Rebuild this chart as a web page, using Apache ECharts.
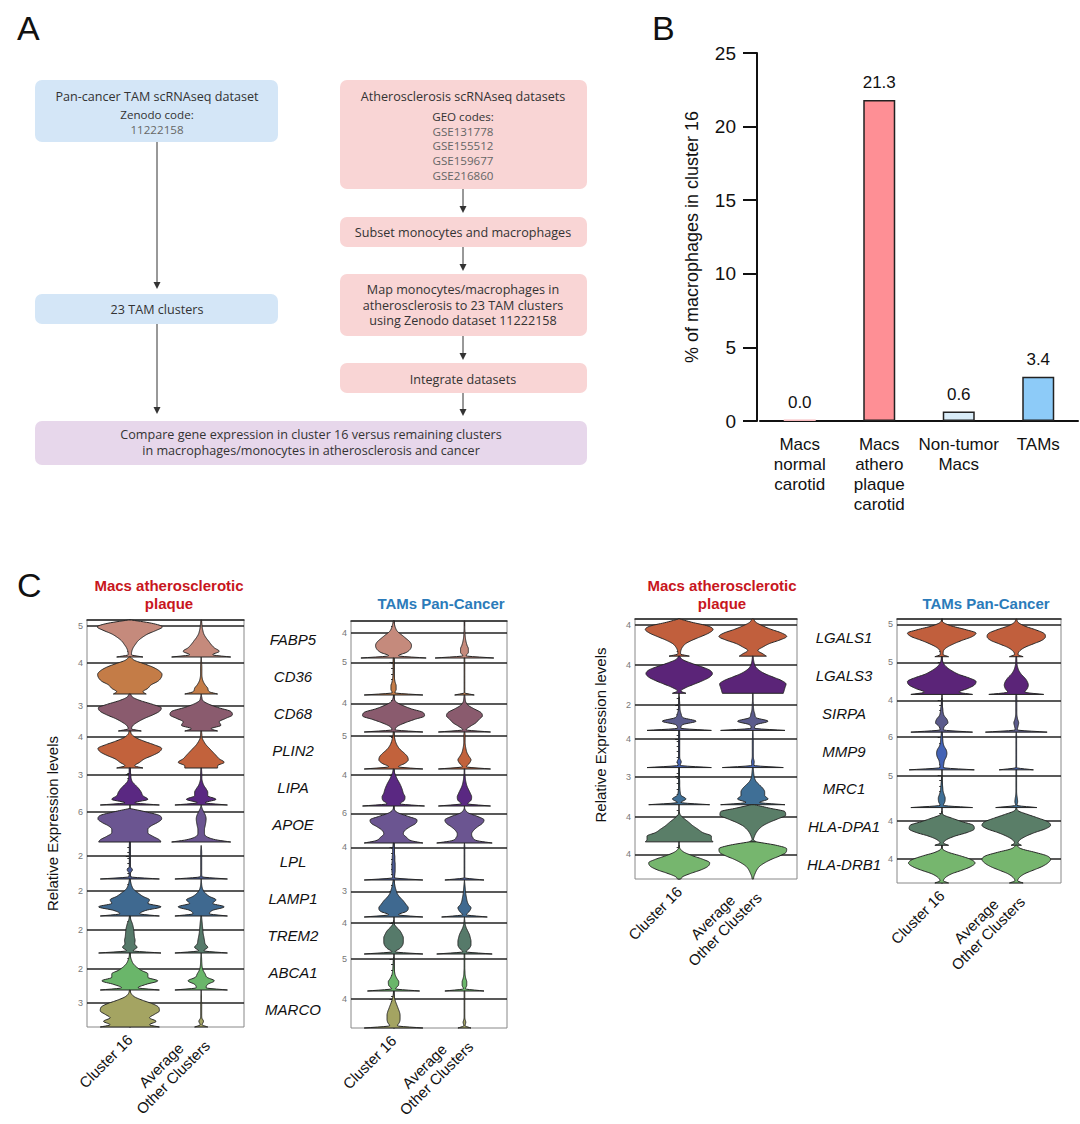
<!DOCTYPE html>
<html><head><meta charset="utf-8">
<script src="https://cdn.jsdelivr.net/npm/echarts@6/dist/echarts.min.js"></script>
<style>html,body{margin:0;padding:0;background:#fff}#c{width:1080px;height:1124px}</style>
</head><body><div id="c"></div>
<script>
// ---------------- Panel A (flow chart text) ----------------
const flowPanCancer = ['Pan-cancer TAM scRNAseq dataset', 'Zenodo code:', '11222158'];
const flowAthero = ['Atherosclerosis scRNAseq datasets', 'GEO codes:', 'GSE131778', 'GSE155512', 'GSE159677', 'GSE216860'];
const flowSubset = ['Subset monocytes and macrophages'];
const flowMap = ['Map monocytes/macrophages in', 'atherosclerosis to 23 TAM clusters', 'using Zenodo dataset 11222158'];
const flowIntegrate = ['Integrate datasets'];
const flowClusters = ['23 TAM clusters'];
const flowCompare = ['Compare gene expression in cluster 16 versus remaining clusters', 'in macrophages/monocytes in atherosclerosis and cancer'];

// ---------------- Panel B data ----------------
const bCategories = ['Macs\nnormal\ncarotid', 'Macs\nathero\nplaque\ncarotid', 'Non-tumor\nMacs', 'TAMs'];
const bValues = [0.1, 21.8, 0.64, 3.0];
const bLabels = ['0.0', '21.3', '0.6', '3.4'];
const bAxisName = '% of macrophages in cluster 16';

// ---------------- Panel C data ----------------
const clusterLabels = ['Cluster 16', 'Average\nOther Clusters'];
const genesLeft = ['FABP5','CD36','CD68','PLIN2','LIPA','APOE','LPL','LAMP1','TREM2','ABCA1','MARCO'];
const genesRight = ['LGALS1','LGALS3','SIRPA','MMP9','MRC1','HLA-DPA1','HLA-DRB1'];
// relative density levels (fraction of each row height, bottom -> top)
const levels = [0, 0.06, 0.154, 0.248, 0.342, 0.436, 0.53, 0.624, 0.718, 0.812, 0.906, 1.0];

const athLeftC16 = [
 [0.4,0.05,0.06,0.1,0.17,0.25,0.38,0.55,0.8,0.99,0.7,0.05],
 [0.5,0.4,0.55,0.65,0.85,0.95,0.98,0.9,0.72,0.45,0.15,0.02],
 [0.35,0.05,0.1,0.25,0.45,0.7,0.9,0.96,0.7,0.35,0.1,0.02],
 [0.4,0.15,0.3,0.45,0.7,0.9,0.97,0.75,0.45,0.2,0.06,0.02],
 [0.9,0.15,0.55,0.4,0.35,0.28,0.18,0.08,0.04,0.03,0.02,0.02],
 [0.95,0.9,0.7,0.55,0.55,0.65,0.85,0.97,0.9,0.5,0,0],
 [0.9,0.03,0.02,0.08,0.015,0.015,0.015,0.015,0.015,0.015,0.015,0.01],
 [0.9,0.3,0.5,0.95,0.55,0.6,0.4,0.25,0.12,0.06,0.03,0.01],
 [0.95,0.1,0.22,0.15,0.16,0.14,0.13,0.12,0.1,0.07,0.03,0.01],
 [0.9,0.25,0.5,0.85,0.55,0.55,0.35,0.2,0.1,0.05,0.02,0.01],
 [0.9,0.6,0.8,0.6,0.75,0.9,0.88,0.7,0.4,0.15,0.04,0.01]
];
const athLeftOther = [
 [0.9,0.35,0.55,0.4,0.3,0.22,0.14,0.08,0.05,0.03,0.02,0.01],
 [0.5,0.25,0.2,0.12,0.06,0.03,0.02,0.02,0.02,0.015,0.01,0],
 [0.5,0.3,0.6,0.55,0.75,0.95,0.9,0.55,0.25,0.06,0.02,0],
 [0.5,0.5,0.7,0.55,0.45,0.35,0.25,0.15,0.08,0.03,0.02,0.01],
 [0.8,0.12,0.45,0.2,0.2,0.15,0.08,0.04,0.02,0.02,0.015,0.01],
 [0.9,0.45,0.15,0.1,0.1,0.12,0.14,0.15,0.13,0.08,0.03,0],
 [0.8,0.03,0.015,0.015,0.015,0.015,0.015,0.015,0.015,0.01,0,0],
 [0.8,0.25,0.35,0.7,0.35,0.45,0.25,0.12,0.05,0.02,0.01,0],
 [0.8,0.08,0.2,0.12,0.1,0.08,0.06,0.05,0.04,0.03,0.02,0.01],
 [0.8,0.15,0.2,0.4,0.18,0.12,0.06,0.03,0.02,0.015,0.01,0],
 [0.2,0.03,0.07,0.02,0.015,0.015,0.015,0.015,0.01,0.01,0.005,0]
];
const tamLeftC16 = [
 [1.0,0.15,0.4,0.52,0.55,0.5,0.38,0.25,0.12,0.06,0.03,0.01],
 [0.9,0.04,0.08,0.08,0.05,0.03,0.02,0.015,0.015,0.015,0.015,0.01],
 [0.9,0.05,0.12,0.35,0.65,0.95,0.9,0.55,0.28,0.08,0.02,0],
 [0.9,0.15,0.35,0.45,0.42,0.32,0.2,0.12,0.07,0.04,0.02,0.01],
 [0.95,0.2,0.33,0.35,0.3,0.27,0.23,0.18,0.12,0.07,0.03,0.01],
 [0.9,0.55,0.4,0.3,0.35,0.5,0.68,0.72,0.45,0.15,0.02,0],
 [0.9,0.03,0.04,0.05,0.05,0.05,0.04,0.04,0.03,0.03,0.02,0.01],
 [0.9,0.15,0.4,0.45,0.38,0.3,0.2,0.12,0.08,0.05,0.03,0.01],
 [0.9,0.05,0.2,0.28,0.3,0.3,0.26,0.2,0.1,0.02,0,0],
 [0.8,0.06,0.15,0.16,0.1,0.05,0.03,0.02,0.015,0.01,0,0],
 [0.9,0.12,0.18,0.2,0.2,0.18,0.14,0.1,0.06,0.03,0.01,0]
];
const tamLeftOther = [
 [0.9,0.05,0.12,0.12,0.08,0.05,0.03,0.02,0.015,0.01,0.01,0.01],
 [0.3,0.01,0.01,0.01,0.01,0.01,0.01,0.01,0.01,0.01,0.01,0.01],
 [0.8,0.05,0.18,0.35,0.45,0.55,0.5,0.3,0.12,0.04,0.02,0.01],
 [0.8,0.06,0.15,0.2,0.14,0.08,0.05,0.03,0.02,0.02,0.02,0.01],
 [0.8,0.1,0.2,0.22,0.18,0.13,0.08,0.05,0.03,0.02,0.01,0.01],
 [0.85,0.4,0.25,0.22,0.28,0.4,0.55,0.6,0.4,0.12,0.02,0],
 [0.6,0.01,0.01,0.01,0.01,0.01,0.01,0.01,0.01,0.01,0.01,0],
 [0.7,0.06,0.15,0.2,0.12,0.08,0.06,0.04,0.03,0.02,0.01,0],
 [0.85,0.05,0.15,0.2,0.2,0.18,0.15,0.1,0.05,0.02,0.01,0],
 [0.6,0.03,0.07,0.07,0.04,0.02,0.015,0.01,0.01,0.01,0.01,0.01],
 [0.2,0.02,0.04,0.015,0.01,0.01,0.01,0.01,0.01,0.01,0.01,0.01]
];
const athRightC16 = [
 [0.3,0.04,0.05,0.1,0.2,0.4,0.65,0.88,1.0,0.85,0.4,0.02],
 [0.2,0.05,0.2,0.45,0.7,0.9,0.98,0.9,0.65,0.35,0.1,0.01],
 [0.95,0.05,0.1,0.5,0.12,0.06,0.03,0.02,0.015,0.01,0,0],
 [0.95,0.03,0.06,0.02,0.015,0.015,0.015,0.015,0.015,0.015,0.015,0.01],
 [0.9,0.05,0.2,0.06,0.03,0.02,0.015,0.015,0.01,0.01,0.01,0],
 [1.0,0.95,0.95,0.7,0.55,0.4,0.28,0.15,0.04,0,0,0],
 [0.05,0.1,0.35,0.65,0.85,0.9,0.7,0.4,0.15,0.03,0,0]
];
const athRightOther = [
 [0.4,0.3,0.15,0.3,0.5,0.8,1.0,0.85,0.55,0.3,0.1,0.02],
 [0.9,0.92,0.95,0.98,0.85,0.6,0.35,0.18,0.08,0.04,0.02,0.01],
 [0.95,0.05,0.1,0.45,0.1,0.06,0.03,0.02,0.015,0.01,0.01,0.01],
 [0.9,0.03,0.04,0.02,0.015,0.015,0.015,0.015,0.015,0.01,0.01,0],
 [0.95,0.2,0.45,0.35,0.35,0.3,0.2,0.1,0.05,0.03,0.02,0.01],
 [0.1,0.02,0.05,0.1,0.18,0.3,0.5,0.75,0.97,0.95,0.5,0.05],
 [0.02,0.03,0.07,0.12,0.2,0.35,0.55,0.8,0.98,1.0,0.7,0.1]
];
const tamRightC16 = [
 [0.2,0.04,0.05,0.15,0.35,0.6,0.88,1.0,0.7,0.3,0.05,0],
 [0.9,0.5,0.75,0.95,1.0,0.8,0.5,0.3,0.15,0.06,0.02,0.01],
 [0.9,0.05,0.08,0.18,0.15,0.07,0.04,0.03,0.015,0.01,0,0],
 [0.95,0.05,0.06,0.08,0.13,0.15,0.13,0.07,0.04,0.03,0.02,0.01],
 [0.9,0.05,0.09,0.1,0.07,0.04,0.03,0.02,0.01,0,0,0],
 [0.2,0.05,0.15,0.4,0.75,0.95,0.92,0.6,0.3,0.04,0,0],
 [0.2,0.05,0.12,0.3,0.6,0.85,0.97,0.85,0.55,0.2,0.02,0]
];
const tamRightOther = [
 [0.2,0.05,0.1,0.25,0.5,0.75,0.85,0.8,0.55,0.25,0.06,0.01],
 [0.8,0.25,0.32,0.35,0.32,0.25,0.15,0.08,0.04,0.02,0.015,0.01],
 [0.9,0.03,0.05,0.07,0.04,0.02,0.015,0.015,0.015,0.015,0.015,0.01],
 [0.5,0.01,0.01,0.01,0.01,0.01,0.01,0.01,0.01,0.01,0.01,0],
 [0.6,0.02,0.04,0.03,0.015,0.01,0.01,0.01,0.01,0.01,0.01,0.01],
 [0.15,0.05,0.12,0.3,0.55,0.85,1.0,0.92,0.65,0.35,0.07,0],
 [0.2,0.04,0.1,0.25,0.5,0.75,0.92,1.0,0.9,0.55,0.15,0.01]
];
// per-row axis tick label and per-row axis maximum (expression units)
const athLeftTicks = [5,4,3,4,3,6,2,2,2,2,3];
const athLeftMax = [5.95,4.76,4.41,4.76,3.66,7.4,3.23,2.94,3.17,3.45,4.55];
const tamLeftTicks = [4,5,4,5,4,6,4,3,4,5,4];
const tamLeftMax = [5.88,5.68,5.19,5.62,4.76,7.5,4.55,4.35,4.76,5.81,5.13];
const athRightTicks = [4,4,2,4,3,4,4];
const athRightMax = [4.7,5.26,2.94,5.19,3.95,5.97,6.06];
const tamRightTicks = [5,5,4,6,5,4,4];
const tamRightMax = [5.81,5.88,4.76,6.9,5.88,6.25,6.35];

// ---------------- styles ----------------
const colorsLeft = ['#c58a7c','#c47c47','#8a5b6e','#c2623c','#5a2882','#6b5591','#4b5a95','#3f6990','#567a6a','#6ab66a','#a4a462'];
const colorsRight = ['#c15f3d','#5b2478','#5b5b8c','#4463b5','#3f6f96','#5a7e68','#76b66e'];
const bColors = ['#f7b9bd','#fe8f95','#d9ecf8','#8dcbf8'];
const FONT = '"Liberation Sans", Arial, sans-serif';
const W = 0.46;

function monoInterp(xs, ys) {
  const n = xs.length, d = [], m = new Array(n);
  if (n < 2) return () => ys[0] || 0;
  for (let i = 0; i < n - 1; i++) d.push((ys[i+1] - ys[i]) / (xs[i+1] - xs[i]));
  m[0] = d[0]; m[n-1] = d[n-2];
  for (let i = 1; i < n - 1; i++) m[i] = d[i-1] * d[i] <= 0 ? 0 : (d[i-1] + d[i]) / 2;
  for (let i = 0; i < n - 1; i++) {
    if (d[i] === 0) { m[i] = 0; m[i+1] = 0; continue; }
    const a = m[i] / d[i], b = m[i+1] / d[i], s = a*a + b*b;
    if (s > 9) { const t = 3 / Math.sqrt(s); m[i] = t*a*d[i]; m[i+1] = t*b*d[i]; }
  }
  return x => {
    let i = 0; while (i < n - 2 && x > xs[i+1]) i++;
    const h = xs[i+1] - xs[i], t = (x - xs[i]) / h, t2 = t*t, t3 = t2*t;
    return (2*t3 - 3*t2 + 1)*ys[i] + (t3 - 2*t2 + t)*h*m[i] + (-2*t3 + 3*t2)*ys[i+1] + (t3 - t2)*h*m[i+1];
  };
}

function violinRender(c16, other, colors) {
  return function (params, api) {
    const g = api.value(0), r = api.value(1);
    const prof = (g === 0 ? c16 : other)[r];
    let k = prof.length - 1; while (k > 0 && prof[k] <= 0) k--;
    const top = Math.min(k + 1, prof.length - 1);
    const xs = levels.slice(0, top + 1), ys = prof.slice(0, top + 1);
    const f = monoInterp(xs, ys);
    const right = [], left = [];
    const steps = 80;
    for (let s = 0; s <= steps; s++) {
      const t = xs[0] + (xs[top] - xs[0]) * s / steps;
      const w = Math.max(0, f(t)) * W;
      const yv = r + 1 - t;
      right.push(api.coord([g + w, yv]));
      left.unshift(api.coord([g - w, yv]));
    }
    return { type: 'polygon', shape: { points: right.concat(left) },
      style: { fill: colors[r], stroke: '#262626', lineWidth: 1, lineJoin: 'round' } };
  };
}

const grids = [
  { left: 760, top: 53, width: 318, height: 368 },
  { left: 87, top: 620, width: 157, height: 407, show: true, borderColor: '#888', borderWidth: 1 },
  { left: 351, top: 621, width: 156, height: 407, show: true, borderColor: '#888', borderWidth: 1 },
  { left: 635, top: 619, width: 162, height: 260, show: true, borderColor: '#888', borderWidth: 1 },
  { left: 897, top: 619, width: 164, height: 264, show: true, borderColor: '#888', borderWidth: 1 }
];

function violinX(gi) {
  return {
    gridIndex: gi, type: 'value', min: -0.6, max: 1.6,
    axisLine: { show: true, lineStyle: { color: '#222', width: 1.5 } },
    axisTick: { show: true, customValues: [0, 1], length: 5, lineStyle: { color: '#222' } },
    axisLabel: {
      customValues: [0, 1], rotate: 45, margin: 10, color: '#111',
      formatter: v => clusterLabels[Math.round(v)].split('\n').map(s => '{a|' + s + '}').join('\n'),
      rich: { a: { align: 'center', fontSize: 15, fontFamily: FONT, color: '#111', lineHeight: 17 } }
    },
    splitLine: { show: false }
  };
}
function violinY(gi, n, ticks, maxes, name, namePad) {
  const pos = ticks.map((t, r) => r + (1 - t / maxes[r]));
  return {
    gridIndex: gi, type: 'value', inverse: true, min: 0, max: n, interval: 1,
    axisLine: { show: true, lineStyle: { color: '#222', width: 1.5 } },
    splitLine: { show: true, lineStyle: { color: '#222', width: 1.5 } },
    axisTick: { show: true, customValues: pos, length: 4, lineStyle: { color: '#222' } },
    minorTick: { show: true, splitNumber: 7, length: 2.5, lineStyle: { color: '#333' } },
    axisLabel: { customValues: pos, formatter: v => String(ticks[Math.floor(v)]), fontSize: 9, color: '#777', margin: 4, fontFamily: FONT },
    name: name || '', nameLocation: 'middle', nameGap: 27,
    nameTextStyle: { fontSize: 15, color: '#111', fontFamily: FONT, padding: namePad || 0 }
  };
}
function geneY(gi, genes, margin) {
  return {
    gridIndex: gi, type: 'category', data: genes, inverse: true, position: 'left',
    axisLine: { show: false }, axisTick: { show: false }, splitLine: { show: false },
    axisLabel: { margin: margin, align: 'center', fontStyle: 'italic', fontSize: 15, color: '#111', fontFamily: FONT, interval: 0, padding: [4, 0, 0, 0] }
  };
}
function violinSeries(gi, genes, c16, other, colors) {
  return {
    type: 'custom', xAxisIndex: gi, yAxisIndex: gi, silent: true,
    data: genes.flatMap((g, r) => [[0, r], [1, r]]),
    encode: { x: 0, y: 1 },
    renderItem: violinRender(c16, other, colors), z: 3
  };
}

// ---------------- flow chart graphic ----------------
const graphics = [];
const FS = 12.6, FS2 = 11.6;
function box(x, y, w, h, fill) {
  graphics.push({ type: 'rect', shape: { x, y, width: w, height: h, r: 7 }, style: { fill } });
}
function txt(lines, cx, ys, styles) {
  lines.forEach((s, i) => graphics.push({ type: 'text', x: cx, y: ys[i],
    style: Object.assign({ text: s, align: 'center', verticalAlign: 'middle', fontFamily: '"Open Sans", sans-serif', fontSize: FS, lineHeight: 13, fill: '#333' }, styles ? styles[i] : {}) }));
}
function arrow(x, y1, y2) {
  graphics.push({ type: 'line', shape: { x1: x, y1, x2: x, y2: y2 - 5 }, style: { stroke: '#333', lineWidth: 1 } });
  graphics.push({ type: 'polygon', shape: { points: [[x - 3.5, y2 - 7], [x + 3.5, y2 - 7], [x, y2]] }, style: { fill: '#333' } });
}
const blue = '#d4e6f7', pink = '#f9d5d5', purple = '#e7d7eb';
const codeStyle = { fontSize: FS2, lineHeight: 12, fill: '#666' };
box(35, 80, 243, 62, blue);
txt(flowPanCancer, 157, [96, 114, 129], [{}, { fontSize: FS2, lineHeight: 12 }, codeStyle]);
box(340, 80, 247, 109, pink);
txt(flowAthero, 463, [96, 116, 131, 145, 160, 175], [{}, { fontSize: FS2, lineHeight: 12 }, codeStyle, codeStyle, codeStyle, codeStyle]);
box(340, 217, 247, 30, pink); txt(flowSubset, 463, [232]);
box(340, 274, 247, 62, pink); txt(flowMap, 463, [289, 305, 320]);
box(340, 363, 247, 30, pink); txt(flowIntegrate, 463, [379]);
box(35, 294, 243, 30, blue); txt(flowClusters, 157, [309]);
box(35, 421, 552, 44, purple); txt(flowCompare, 311, [434, 450]);
arrow(157, 142, 289); arrow(157, 324, 414);
arrow(463, 189, 213); arrow(463, 247, 271); arrow(463, 336, 360); arrow(463, 393, 416);

const option = {
  backgroundColor: '#fff',
  animation: false,
  title: [
    { text: 'A', left: 12, top: 6, textStyle: { fontSize: 34, fontWeight: 'normal', color: '#111', fontFamily: FONT } },
    { text: 'B', left: 647, top: 6, textStyle: { fontSize: 34, fontWeight: 'normal', color: '#111', fontFamily: FONT } },
    { text: 'C', left: 12, top: 563, textStyle: { fontSize: 34, fontWeight: 'normal', color: '#111', fontFamily: FONT } },
    { text: 'Macs atherosclerotic\nplaque', left: 164, top: 571, textAlign: 'center', textStyle: { fontSize: 15, fontWeight: 'bold', color: '#c8161d', lineHeight: 18, fontFamily: FONT } },
    { text: 'TAMs Pan-Cancer', left: 436, top: 591, textAlign: 'center', textStyle: { fontSize: 15, fontWeight: 'bold', color: '#2b7bba', fontFamily: FONT } },
    { text: 'Macs atherosclerotic\nplaque', left: 717, top: 571, textAlign: 'center', textStyle: { fontSize: 15, fontWeight: 'bold', color: '#c8161d', lineHeight: 18, fontFamily: FONT } },
    { text: 'TAMs Pan-Cancer', left: 981, top: 591, textAlign: 'center', textStyle: { fontSize: 15, fontWeight: 'bold', color: '#2b7bba', fontFamily: FONT } }
  ],
  graphic: graphics,
  grid: grids,
  xAxis: [
    { gridIndex: 0, type: 'category', data: bCategories,
      axisLine: { show: true, lineStyle: { color: '#111', width: 2 } }, axisTick: { show: false },
      axisLabel: { interval: 0, fontSize: 17, lineHeight: 20, margin: 13, color: '#111', fontFamily: FONT } },
    violinX(1), violinX(2), violinX(3), violinX(4)
  ],
  yAxis: [
    { gridIndex: 0, type: 'value', min: 0, max: 25, interval: 5, offset: 3,
      axisLine: { show: true, lineStyle: { color: '#111', width: 2 } },
      axisTick: { show: true, length: 14, lineStyle: { color: '#111', width: 2 } },
      axisLabel: { fontSize: 19, color: '#111', margin: 21, fontFamily: FONT },
      splitLine: { show: false },
      name: bAxisName, nameLocation: 'middle', nameGap: 56,
      nameTextStyle: { fontSize: 18, color: '#111', fontFamily: FONT } },
    violinY(1, genesLeft.length, athLeftTicks, athLeftMax, 'Relative Expression levels'),
    violinY(2, genesLeft.length, tamLeftTicks, tamLeftMax),
    violinY(3, genesRight.length, athRightTicks, athRightMax, 'Relative Expression levels', [0, 0, 0, 28]),
    violinY(4, genesRight.length, tamRightTicks, tamRightMax),
    geneY(2, genesLeft, 58),
    geneY(4, genesRight, 53)
  ],
  series: [
    { type: 'bar', xAxisIndex: 0, yAxisIndex: 0, barWidth: 32,
      data: bValues.map((v, i) => ({ value: v, itemStyle: { color: bColors[i], borderColor: i === 0 ? bColors[0] : '#222', borderWidth: i === 0 ? 0 : 1.5 } })),
      label: { show: true, position: 'top', distance: 9, formatter: p => bLabels[p.dataIndex], fontSize: 17, color: '#111', fontFamily: FONT } },
    violinSeries(1, genesLeft, athLeftC16, athLeftOther, colorsLeft),
    violinSeries(2, genesLeft, tamLeftC16, tamLeftOther, colorsLeft),
    violinSeries(3, genesRight, athRightC16, athRightOther, colorsRight),
    violinSeries(4, genesRight, tamRightC16, tamRightOther, colorsRight)
  ]
};
const chart = echarts.init(document.getElementById('c'), null, { renderer: 'svg' });
chart.setOption(option);
</script>
</body></html>
